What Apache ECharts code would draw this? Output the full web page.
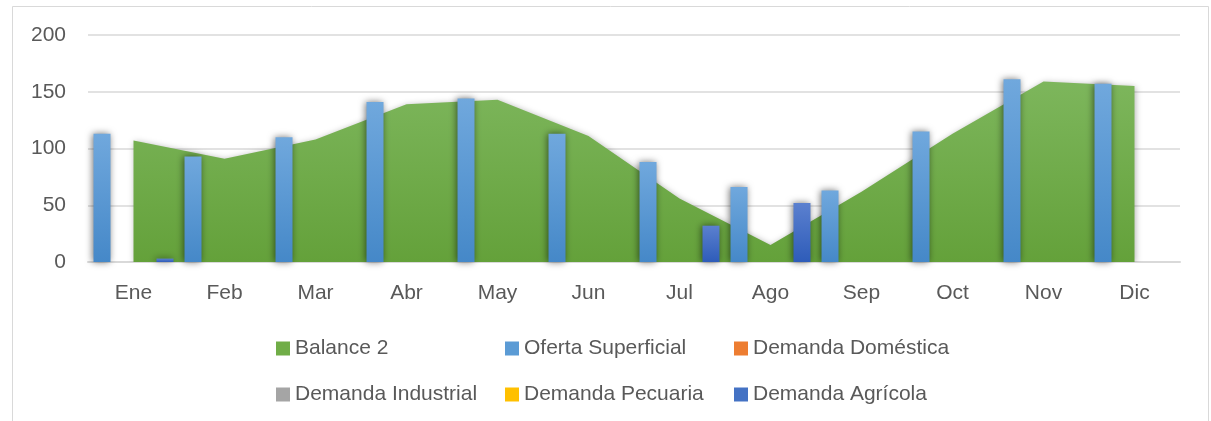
<!DOCTYPE html>
<html><head><meta charset="utf-8">
<script src="https://cdn.jsdelivr.net/npm/echarts@6/dist/echarts.min.js"></script>
<style>html,body{margin:0;padding:0;background:#fff}#c{width:1211px;height:421px}</style>
</head><body><div id="c"></div>
<script>
const categories = ['Ene','Feb','Mar','Abr','May','Jun','Jul','Ago','Sep','Oct','Nov','Dic'];
const balance2 = [107, 91, 108, 139, 143, 111, 56, 15, 62, 113, 159, 155];
const ofertaSuperficial = [113, 93, 110, 141, 144, 113, 88, 66, 63, 115, 161, 157];
const demandaDomestica = [0,0,0,0,0,0,0,0,0,0,0,0];
const demandaIndustrial = [0,0,0,0,0,0,0,0,0,0,0,0];
const demandaPecuaria = [0,0,0,0,0,0,0,0,0,0,0,0];
const demandaAgricola = [3,0,0,0,0,0,32,52,0,0,0,0];
const yTicks = [0, 50, 100, 150, 200];

const FONT = 'Liberation Sans';
const FS = 21;
const TXT = '#595959';
const chart = echarts.init(document.getElementById('c'));
function vgrad(a,b){return new echarts.graphic.LinearGradient(0,0,0,1,[{offset:0,color:a},{offset:1,color:b}]);}
const barShadow = {shadowBlur:7, shadowColor:'rgba(0,0,0,0.55)', shadowOffsetX:-1, shadowOffsetY:0};
function barSeries(name, data, c1, c2){
  return {name, type:'bar', data, barWidth:17, barGap:'-7.4%', z:3,
    itemStyle:Object.assign({color:vgrad(c1,c2)}, barShadow)};
}
const legendItems = [
  {name:'Balance 2', left:276, top:338},
  {name:'Oferta Superficial', left:505, top:338},
  {name:'Demanda Doméstica', left:734, top:338},
  {name:'Demanda Industrial', left:276, top:384},
  {name:'Demanda Pecuaria', left:505, top:384},
  {name:'Demanda Agrícola', left:734, top:384}
];
const legendColors = {'Balance 2':'#70ad47','Oferta Superficial':'#5b9bd5','Demanda Doméstica':'#ed7d31','Demanda Industrial':'#a5a5a5','Demanda Pecuaria':'#ffc000','Demanda Agrícola':'#4472c4'};
chart.setOption({
  animation:false,
  backgroundColor:'#fff',
  textStyle:{fontFamily:FONT},
  graphic:[{type:'rect', shape:{x:12.5,y:6.5,width:1196,height:430}, style:{fill:'none', stroke:'#d9d9d9', lineWidth:1}, z:-1}],
  grid:{left:88, right:31, top:35, bottom:159, containLabel:false},
  legend: legendItems.map(it=>({
    data:[{name:it.name, itemStyle:{color:legendColors[it.name]}}], left:it.left, top:it.top,
    icon:'rect', itemWidth:14, itemHeight:14, itemGap:6, padding:0,
    textStyle:{color:TXT, fontSize:FS, fontFamily:FONT}, selectedMode:false
  })),
  xAxis:{type:'category', data:categories, boundaryGap:true,
    axisLine:{lineStyle:{color:'#d9d9d9', width:2}}, axisTick:{show:false},
    axisLabel:{color:TXT, fontSize:FS, fontFamily:FONT, margin:21}},
  yAxis:{type:'value', min:0, max:200, interval:50,
    axisLine:{show:false}, axisTick:{show:false},
    axisLabel:{color:TXT, fontSize:FS, fontFamily:FONT, margin:22, formatter:v=>yTicks.includes(v)?String(v):''},
    splitLine:{lineStyle:{color:'#d9d9d9', width:1.5}}},
  series:[
    {name:'Balance 2', type:'line', data:balance2, symbol:'none', z:2,
      lineStyle:{width:0}, itemStyle:{color:'#70ad47'},
      areaStyle:{color:vgrad('#7db65c','#64a13a'), opacity:1, shadowBlur:6, shadowColor:'rgba(0,0,0,0.3)', shadowOffsetX:1, shadowOffsetY:1}},
    barSeries('Oferta Superficial', ofertaSuperficial, '#70a8dd', '#4588c8'),
    barSeries('Demanda Doméstica', demandaDomestica, '#f09152', '#e0701f'),
    barSeries('Demanda Industrial', demandaIndustrial, '#b4b4b4', '#969696'),
    barSeries('Demanda Pecuaria', demandaPecuaria, '#ffcb33', '#f0b400'),
    barSeries('Demanda Agrícola', demandaAgricola, '#5b80cf', '#2e5cb9')
  ]
});
</script></body></html>
